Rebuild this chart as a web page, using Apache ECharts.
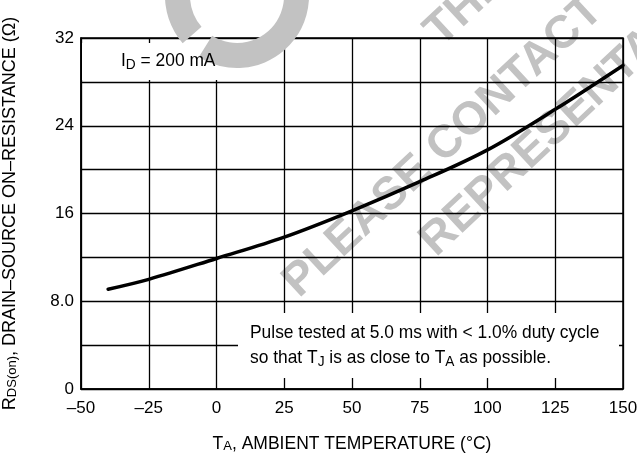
<!DOCTYPE html>
<html>
<head>
<meta charset="utf-8">
<script src="https://cdn.jsdelivr.net/npm/echarts@6/dist/echarts.min.js"></script>
<style>
  html, body { margin: 0; padding: 0; background: #fff; }
  #chart { width: 637px; height: 456px; }
</style>
</head>
<body>
<div id="chart"></div>
<script>
// ambient temperature (°C) and on-resistance (Ω)
const temps = [-40, -25, 0, 25, 50, 75, 100, 125, 150];
const rdsOn = [9.1, 10.0, 11.9, 13.85, 16.25, 18.9, 21.8, 25.5, 29.5];

// only these y values carry a label
const yLabels = { 0: '0', 8: '8.0', 16: '16', 24: '24', 32: '32' };

const FONT = '"Liberation Sans", Arial, sans-serif';
const GREY = '#c2c2c2';
const SQUEEZE = 0.915; // reference type is a condensed face
const TILT = 43 * Math.PI / 180;

const chart = echarts.init(document.getElementById('chart'), null, { renderer: 'canvas' });

const subRich = {
    sub: { fontFamily: FONT, fontSize: 13, verticalAlign: 'bottom', lineHeight: 10, color: '#000' }
};
const noteSub = { sub: { font: '15px ' + FONT, verticalAlign: 'bottom', padding: [8, 0, 0, 0] } };
const markFont = 'bold 46px "Liberation Sans", sans-serif';

let option = {
    animation: false,
    backgroundColor: '#fff',
    grid: {
        left: 81,
        right: 14,
        top: 38,
        bottom: 67,
        outerBoundsMode: 'none',
        containLabel: false,
        show: true,
        z: 3,
        borderColor: '#000',
        borderWidth: 1.5,
        backgroundColor: 'transparent'
    },
    xAxis: {
        type: 'value',
        z: 3,
        min: -50,
        max: 150,
        interval: 25,
        axisLine: { show: true, onZero: false, lineStyle: { color: '#000', width: 1.5 } },
        axisTick: { show: false },
        splitLine: { show: true, lineStyle: { color: '#000', width: 1.3 } },
        axisLabel: {
            margin: 11,
            fontFamily: FONT,
            fontSize: 17,
            color: '#000',
            formatter: v => String(v).replace('-', '\u2013')
        },
        name: 'T{sub|A}, AMBIENT TEMPERATURE (°C)',
        nameLocation: 'middle',
        nameGap: 46,
        nameTextStyle: { fontFamily: FONT, fontSize: 17.5, color: '#000', rich: subRich }
    },
    yAxis: {
        type: 'value',
        z: 3,
        min: 0,
        max: 32,
        interval: 4,
        axisLine: { show: true, onZero: false, lineStyle: { color: '#000', width: 1.5 } },
        axisTick: { show: false },
        splitLine: { show: true, lineStyle: { color: '#000', width: 1.3 } },
        axisLabel: {
            margin: 7,
            fontFamily: FONT,
            fontSize: 17,
            color: '#000',
            formatter: v => (yLabels[v] !== undefined ? yLabels[v] : '')
        },
        name: 'R{sub|DS(on)}, DRAIN\u2013SOURCE ON\u2013RESISTANCE (\u03a9)',
        nameLocation: 'middle',
        nameRotate: 90,
        nameGap: 62,
        nameTextStyle: { fontFamily: FONT, fontSize: 18, color: '#000', rich: subRich }
    },
    graphic: [
        // watermark text sits under the grid lines
        { type: 'text', z: 1, x: 448, y: 55, rotation: TILT, style: { text: 'THIS', fill: GREY, font: markFont, textVerticalAlign: 'bottom' } },
        { type: 'text', z: 1, x: 306, y: 306, rotation: TILT, style: { text: 'PLEASE CONTACT', fill: GREY, font: markFont, textVerticalAlign: 'bottom' } },
        { type: 'text', z: 1, x: 443, y: 265, rotation: TILT, style: { text: 'REPRESENTATIVE', fill: GREY, font: markFont, textVerticalAlign: 'bottom' } },
        // white label boxes that hide the grid behind the notes
        { type: 'rect', z: 50, shape: { x: 82, y: 43, width: 144, height: 37 }, style: { fill: '#fff' } },
        { type: 'rect', z: 50, shape: { x: 238, y: 313, width: 381, height: 65 }, style: { fill: '#fff' } },
        // logo ring with its notch
        {
            type: 'sector', z: 51,
            shape: { cx: 237, cy: -4, r: 72, r0: 47, startAngle: 139 * Math.PI / 180, endAngle: 482 * Math.PI / 180, clockwise: true },
            style: { fill: GREY }
        },
        // notes
        {
            type: 'text', z: 60, x: 121, y: 61, scaleX: SQUEEZE,
            style: { text: 'I{sub|D} = 200 mA', fill: '#000', font: '19px ' + FONT, textVerticalAlign: 'middle', rich: noteSub }
        },
        {
            type: 'text', z: 60, x: 250, y: 333, scaleX: SQUEEZE,
            style: { text: 'Pulse tested at 5.0 ms with < 1.0% duty cycle', fill: '#000', font: '19px ' + FONT, textVerticalAlign: 'middle' }
        },
        {
            type: 'text', z: 60, x: 250, y: 358, scaleX: SQUEEZE,
            style: { text: 'so that T{sub|J} is as close to T{sub|A} as possible.', fill: '#000', font: '19px ' + FONT, textVerticalAlign: 'middle', rich: noteSub }
        }
    ],
    series: [{
        type: 'line',
        z: 70,
        smooth: 0.35,
        symbol: 'none',
        data: temps.map((t, i) => [t, rdsOn[i]]),
        lineStyle: { color: '#000', width: 3.5, cap: 'round' }
    }]
};

chart.setOption(option);
</script>
</body>
</html>
